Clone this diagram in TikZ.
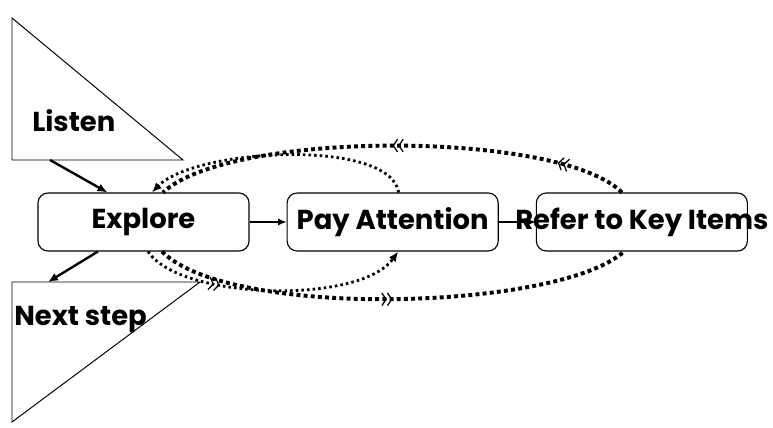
\documentclass[tikz,border=0pt]{standalone}
\usepackage{fontspec}
\setmainfont{Poppins}
\usetikzlibrary{arrows.meta,calc,positioning,decorations.markings}

\newcommand{\chev}{\arrow{Straight Barb[length=3pt,width=9pt,line width=0.9pt] Straight Barb[length=3pt,width=9pt,line width=0.9pt]}}

\begin{document}
\begin{tikzpicture}[
		x=0.025cm, y=-0.025cm,
		node distance=0.925cm,
		arrow/.style={line width=1.7pt, -{Latex[length=7pt,width=6pt]}},
		thinarrow/.style={line width=1pt, -{Latex[length=6pt,width=5pt]}},
		stepbox/.style={draw, line width=0.8pt, rounded corners=2.5mm, minimum width=5.275cm, minimum height=1.45cm, inner sep=0pt, font=\bfseries\fontsize{19.5}{21}\selectfont},
		tag/.style={font=\bfseries\fontsize{19.5}{21}\selectfont, inner sep=0pt, anchor=west},
		wedge/.style={draw, line width=0.7pt},
		loopback/.style={line width=2pt, dash pattern=on 1.8pt off 2.2pt},
		cycleback/.style={line width=2.8pt, dash pattern=on 2.8pt off 2.3pt},
	]
	\useasboundingbox (0,0) rectangle (773,427);

	% triangles
	\draw[wedge] (12,18) -- (12,160) -- (183,160) -- cycle;
	\draw[wedge] (12,282) -- (200,282) -- (12,422) -- cycle;
	\coordinate (listen out) at (50,160);
	\coordinate (next in) at (48,282);
	\node[tag] (listen) at (32,121) {Listen};
	\node[tag] (next) at (14,320) {Next step};

	% steps
	\node[stepbox] (explore) at (143.5,222) {Explore};
	\node[stepbox, right=of explore] (attention) {Pay Attention};
	\node[stepbox, right=of attention] (refer) {\makebox[0pt]{Refer to Key Items}};

	\draw[arrow] (listen out) -- ($(explore.north)!0.34!(explore.north west)$);
	\draw[arrow] ($(explore.south)!0.43!(explore.south west)$) -- (next in);
	\draw[thinarrow] (explore) -- (attention);
	\draw[thinarrow] (attention) -- (refer);

	% loops
	\draw[loopback, -{Latex[length=7pt,width=6pt]}] ($(attention.north)+(6,0)$) .. controls (390,138) and (195,148) .. ($(explore.north)+(8.5,0)$);
	\draw[loopback, -{Latex[length=7pt,width=6pt]}, postaction={decorate}, decoration={markings, mark=at position 0.3 with {\chev}}]
		($(explore.south)+(4.5,0)$) .. controls (180,300) and (360,305) .. ($(attention.south)+(5.5,0)$);
	\draw[cycleback, postaction={decorate}, decoration={markings, mark=at position 0.15 with {\chev}, mark=at position 0.5 with {\chev}}]
		($(refer.north)+(-20,0)$) .. controls (560,130) and (230,130) .. ($(explore.north)+(19.5,0)$);
	\draw[cycleback, postaction={decorate}, decoration={markings, mark=at position 0.5 with {\chev}}]
		($(explore.south)+(18.5,0)$) .. controls (230,320) and (560,310) .. ($(refer.south)+(-18,0)$);
\end{tikzpicture}
\end{document}
